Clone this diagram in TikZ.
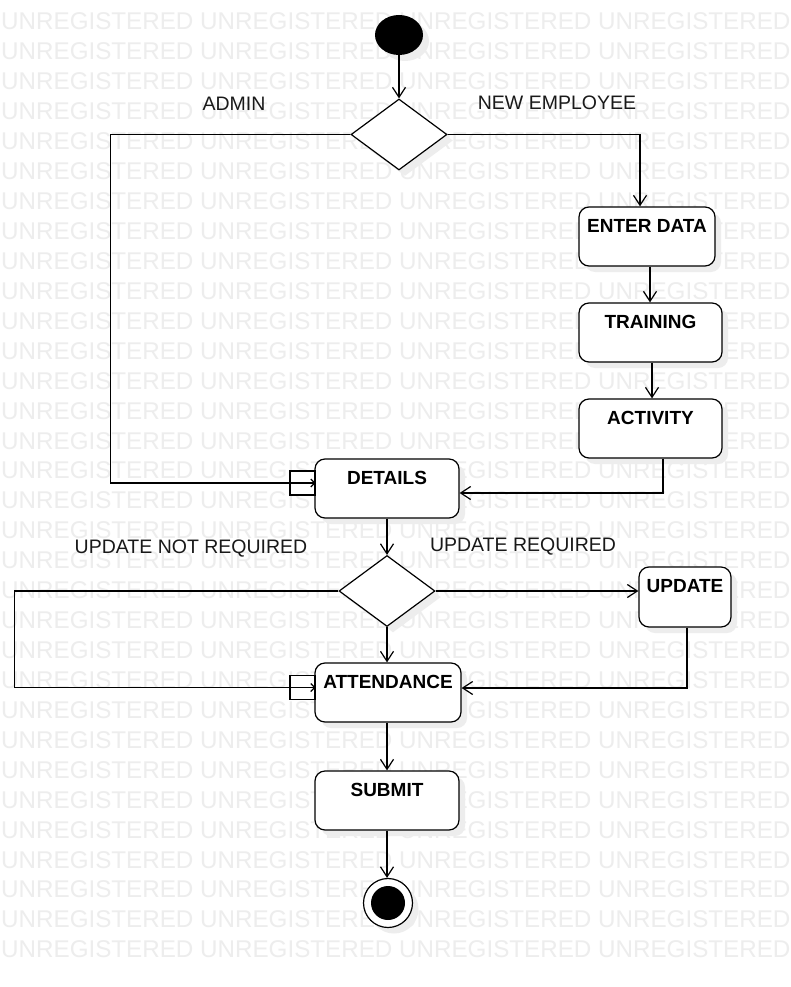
\documentclass[tikz,border=0pt]{standalone}
\usepackage{fontspec}
\setmainfont{Liberation Sans}
\usetikzlibrary{arrows.meta,shapes.geometric,shadows}
\begin{document}
\begin{tikzpicture}[x=1pt,y=-1pt,
  wm/.style={anchor=base west,inner sep=0pt,text=black!7,font=\fontsize{24.2}{26}\selectfont},
  lbl/.style={inner sep=0pt,text=black!90,font=\fontsize{19.5}{22}\selectfont},
  shad/.style={drop shadow={shadow xshift=6pt,shadow yshift=-6pt,fill=black!7,opacity=1}},
  act/.style={draw,line width=1.2pt,rounded corners=10pt,fill=white,shad,minimum height=59pt,inner sep=0pt},
  dec/.style={draw,line width=1.2pt,diamond,fill=white,shad,minimum width=96pt,minimum height=71pt,inner sep=0pt},
  pinbox/.style={draw,line width=1.2pt,fill=white,minimum width=25pt,minimum height=24pt,inner sep=0pt},
  arr/.style={line width=1.2pt,-{Straight Barb[length=10pt,width=13pt,line width=1.2pt]}},
  parr/.style={line width=1.2pt,-{Straight Barb[length=4pt,width=8pt,line width=1.2pt]}},
  line/.style={line width=1.2pt}]
\useasboundingbox (0,0) rectangle (790,987);
\fill[white] (0,0) rectangle (790,987);
% watermark
\foreach \k in {0,...,31}{
  \node[wm] at (1,{30+29.93*\k}) {UNREGISTERED UNREGISTERED UNREGISTERED UNREGISTERED};
}
\newcommand{\acttext}[1]{\fontsize{19}{22}\selectfont\bfseries #1}
% nodes
\node[ellipse,fill=black,shad,minimum width=48pt,minimum height=40pt,inner sep=0pt] (start) at (399,35) {};
\node[dec] (d1) at (399,134.5) {};
\node[act,minimum width=136pt,label={[anchor=north,inner sep=0pt,yshift=-12.5pt]north:\acttext{ENTER DATA}}] (enter) at (647,236.5) {};
\node[act,minimum width=143pt,label={[anchor=north,inner sep=0pt,yshift=-12.5pt]north:\acttext{TRAINING}}] (train) at (650.5,332.5) {};
\node[act,minimum width=143pt,label={[anchor=north,inner sep=0pt,yshift=-12.5pt]north:\acttext{ACTIVITY}}] (activity) at (650.5,428.5) {};
\node[act,minimum width=144pt,label={[anchor=north,inner sep=0pt,yshift=-12.5pt]north:\acttext{DETAILS}}] (details) at (387,488.5) {};
\node[dec] (d2) at (387,591) {};
\node[act,minimum width=92pt,minimum height=60pt,label={[anchor=north,inner sep=0pt,yshift=-12.5pt]north:\acttext{UPDATE}}] (update) at (685,597) {};
\node[act,minimum width=146pt,label={[anchor=north,inner sep=0pt,yshift=-12.5pt]north:\acttext{ATTENDANCE}}] (attend) at (388,692.5) {};
\node[act,minimum width=144pt,label={[anchor=north,inner sep=0pt,yshift=-12.5pt]north:\acttext{SUBMIT}}] (submit) at (387,800.5) {};
\node[circle,draw,line width=1.2pt,fill=white,shad,minimum size=49pt,inner sep=0pt] (final) at (388,903) {};
\fill[black] (final.center) circle [radius=17pt];
\node[pinbox] (pin1) at (302.5,483) {};
\node[pinbox] (pin2) at (302.5,687.5) {};
% labels
\node[lbl] (ladmin) at (234,104) {ADMIN};
\node[lbl] (lnew) at (557,103) {NEW EMPLOYEE};
\node[lbl] (lnot) at (191,549) {UPDATE NOT REQUIRED};
\node[lbl] (lreq) at (523,547) {UPDATE REQUIRED};
% connectors
\draw[arr] (start) -- (d1.north);
\draw[parr] (d1.west) -- ++(-240,0) |- (pin1.east);
\draw[arr] (d1.east) -| ([xshift=-7pt]enter.north);
\draw[arr] ([xshift=3pt]enter.south) -- ([xshift=3pt]enter.south |- train.north);
\draw[arr] ([xshift=1.5pt]train.south) -- ([xshift=1.5pt]train.south |- activity.north);
\draw[arr] ([xshift=12.5pt]activity.south) |- ([yshift=-4.5pt]details.east);
\draw[arr] (details.south) -- (d2.north);
\draw[arr] (d2.east) -- (d2.east -| update.west);
\draw[arr] ([xshift=2pt]update.south) |- ([yshift=4.5pt]attend.east);
\draw[parr] (d2.west) -- ++(-324,0) |- (pin2.east);
\draw[arr] (d2.south) -- (d2.south |- attend.north);
\draw[arr] (attend.south -| submit.north) -- (submit.north);
\draw[arr] (submit.south) -- (submit.south |- final.north);
\end{tikzpicture}
\end{document}
